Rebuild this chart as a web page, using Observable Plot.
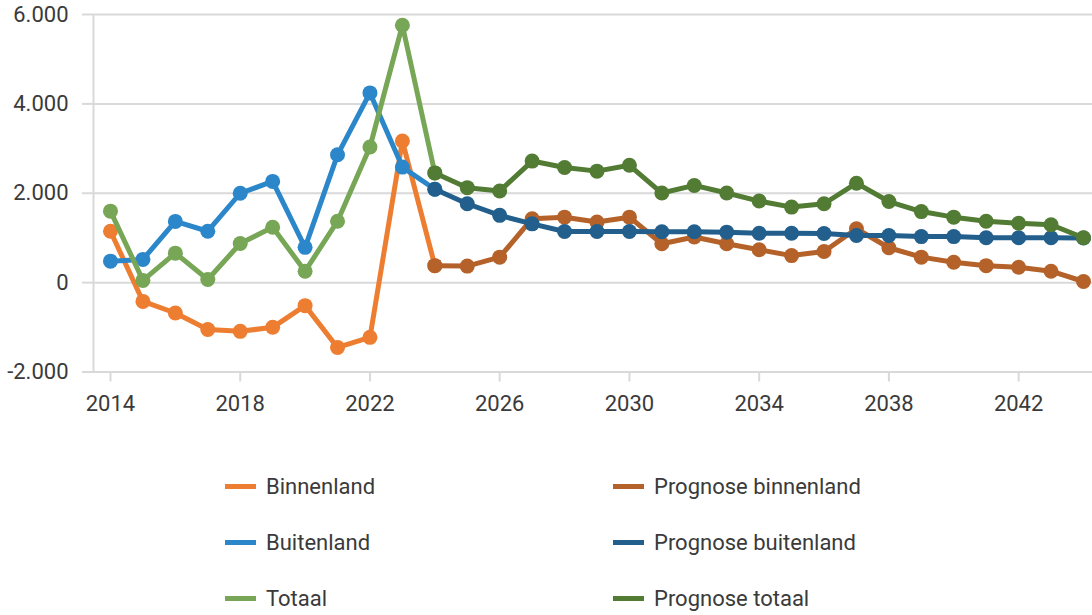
<!DOCTYPE html>
<html>
<head>
<meta charset="utf-8">
<script src="https://cdn.jsdelivr.net/npm/d3@7"></script>
<script src="https://cdn.jsdelivr.net/npm/@observablehq/plot@0.6"></script>
<style>
  html, body { margin: 0; padding: 0; background: #fff; }
  body { width: 1092px; height: 615px; overflow: hidden; font-family: Roboto, sans-serif; color: #404040; }
  #legend { position: relative; height: 175px; }
  .item { position: absolute; display: flex; align-items: center; font-size: 22px; height: 30px; }
  .sw { width: 31px; height: 5px; margin-right: 10px; }
</style>
</head>
<body>
<div id="chart"></div>
<div id="legend"></div>
<script>
// ---- data ----
const yearsHist = [2014, 2015, 2016, 2017, 2018, 2019, 2020, 2021, 2022, 2023, 2024];
const binnenland = [1150, -420, -680, -1050, -1090, -1000, -515, -1450, -1225, 3170, 380];
const buitenland = [480, 520, 1370, 1150, 2000, 2265, 790, 2860, 4245, 2585, 2090];
const totaal = [1600, 50, 660, 70, 875, 1240, 255, 1375, 3035, 5760, 2455];

const yearsProg = [2024, 2025, 2026, 2027, 2028, 2029, 2030, 2031, 2032, 2033, 2034,
                   2035, 2036, 2037, 2038, 2039, 2040, 2041, 2042, 2043, 2044];
const progBinnenland = [380, 370, 570, 1430, 1465, 1355, 1465, 870, 1020, 870, 735,
                        605, 695, 1205, 780, 570, 455, 380, 345, 255, 25];
const progBuitenland = [2090, 1765, 1505, 1315, 1145, 1145, 1145, 1140, 1140, 1130, 1105,
                        1105, 1100, 1055, 1055, 1030, 1030, 1005, 1005, 1005, 1000];
const progTotaal = [2455, 2125, 2050, 2720, 2575, 2495, 2625, 2005, 2175, 2005, 1825,
                    1690, 1765, 2225, 1815, 1590, 1465, 1375, 1330, 1295, 1005];

const seriesNames = ["Binnenland", "Buitenland", "Totaal",
                     "Prognose binnenland", "Prognose buitenland", "Prognose totaal"];
const seriesColors = ["#ED7D31", "#2C87CA", "#77A656", "#B5622A", "#235F8C", "#527B34"];

const yTicks = [-2000, 0, 2000, 4000, 6000];
const xTicks = [2014, 2018, 2022, 2026, 2030, 2034, 2038, 2042];
const xDomain = [2013.476, 2044.278];

// ---- build rows ----
const seriesData = [
  [seriesNames[0], yearsHist, binnenland],
  [seriesNames[1], yearsHist, buitenland],
  [seriesNames[2], yearsHist, totaal],
  [seriesNames[3], yearsProg, progBinnenland],
  [seriesNames[4], yearsProg, progBuitenland],
  [seriesNames[5], yearsProg, progTotaal]
].map(([name, years, vals]) => years.map((y, i) => ({series: name, year: y, value: vals[i]})));

const nl = d3.formatLocale({decimal: ",", thousands: ".", grouping: [3], currency: ["€", ""], minus: "-"});
const fmt = nl.format(",");

const gridColor = "#d9d9d9";
const textColor = "#3a3a3a";

const seriesMarks = seriesData.flatMap(rows => [
  Plot.line(rows, {x: "year", y: "value", stroke: "series", strokeWidth: 5}),
  Plot.dot(rows, {x: "year", y: "value", fill: "series", r: 7.5})
]);

const chart = Plot.plot({
  width: 1092,
  height: 440,
  marginLeft: 93,
  marginRight: 0,
  marginTop: 14,
  marginBottom: 68.5,
  x: {domain: xDomain},
  y: {domain: [-2000, 6000]},
  color: {domain: seriesNames, range: seriesColors},
  style: {fontFamily: "Roboto, sans-serif", fontSize: "22px", color: textColor, background: "white", overflow: "visible"},
  marks: [
    Plot.gridY(yTicks, {stroke: gridColor, strokeOpacity: 1, strokeWidth: 2}),
    Plot.ruleX([xDomain[0]], {stroke: gridColor, strokeWidth: 2}),
    Plot.axisY({ticks: yTicks, tickSize: 11, tickPadding: 14, tickFormat: fmt, stroke: gridColor, strokeWidth: 2, fill: textColor, label: null}),
    Plot.axisX({ticks: xTicks, tickSize: 10, tickPadding: 13, tickFormat: d => String(d), stroke: gridColor, strokeWidth: 2, fill: textColor, label: null}),
    ...seriesMarks
  ]
});
document.getElementById("chart").appendChild(chart);

// ---- legend ----
const legend = document.getElementById("legend");
const legendPos = [
  [225, 31], [225, 87], [225, 143],
  [613, 31], [613, 87], [613, 143]
];
seriesNames.forEach((name, i) => {
  const el = document.createElement("div");
  el.className = "item";
  el.style.left = legendPos[i][0] + "px";
  el.style.top = legendPos[i][1] + "px";
  el.style.color = textColor;
  const sw = document.createElement("span");
  sw.className = "sw";
  sw.style.background = seriesColors[i];
  const tx = document.createElement("span");
  tx.textContent = name;
  el.appendChild(sw);
  el.appendChild(tx);
  legend.appendChild(el);
});
</script>
</body>
</html>
